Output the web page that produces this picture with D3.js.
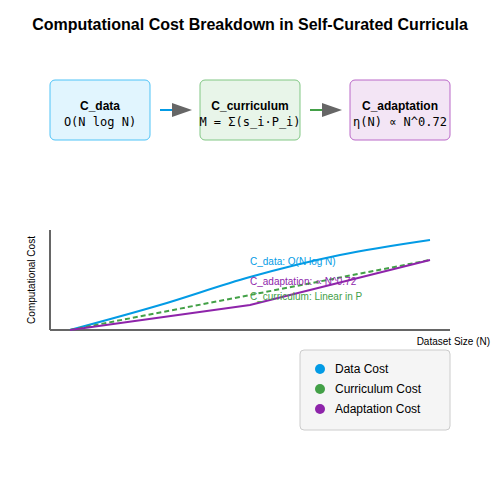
<!DOCTYPE html>
<html><head><meta charset="utf-8">
<script src="https://cdn.jsdelivr.net/npm/d3@7"></script>
<style>body{margin:0;background:#fff}</style></head>
<body><div id="chartHolder"></div>
<script>
// data
const stageNames = ["C_data", "C_curriculum", "C_adaptation"];
const stageFormulas = ["O(N log N)", "M = Σ(s_i·P_i)", "η(N) ∝ N^0.72"];
const stageFill = ["#e1f5fe", "#e8f5e9", "#f3e5f5"];
const stageStroke = ["#4fc3f7", "#81c784", "#ba68c8"];
const seriesNames = ["Data Cost", "Curriculum Cost", "Adaptation Cost"];
const seriesColors = ["#039be5", "#43a047", "#8e24aa"];
const dataCost = [[5, 0], [27.5, 25], [50, 53], [72.5, 75], [95, 90]];
const curriculumCost = [[5, 0], [95, 70]];
const adaptationCost = [[5, 0], [50, 25], [95, 70]];
const annotations = ["C_data: O(N log N)", "C_adaptation: ∝ N^0.72", "C_curriculum: Linear in P"];

const width = 500, height = 500;
const svg = d3.select("#chartHolder").append("svg").attr("width", width).attr("height", height);

svg.append("text").attr("x", 250).attr("y", 30).attr("text-anchor", "middle")
  .style("font-family", "Liberation Sans, Arial").style("font-size", "16px").style("font-weight", "bold")
  .text("Computational Cost Breakdown in Self-Curated Curricula");

// flow boxes
const bx = d3.scaleOrdinal().domain(stageNames).range([50, 200, 350]);
stageNames.forEach((n, i) => {
  const g = svg.append("g").attr("transform", `translate(${bx(n)},80)`);
  g.append("rect").attr("width", 100).attr("height", 60).attr("rx", 5)
    .attr("fill", stageFill[i]).attr("stroke", stageStroke[i]);
  g.append("text").attr("x", 50).attr("y", 30).attr("text-anchor", "middle")
    .style("font-family", "Liberation Sans, Arial").style("font-size", "12px").style("font-weight", "bold").text(n);
  g.append("text").attr("x", 50).attr("y", 46).attr("text-anchor", "middle")
    .style("font-family", "DejaVu Sans Mono, monospace").style("font-size", "12px").text(stageFormulas[i]);
  if (i < 2) {
    const ax = bx(n) + 110;
    svg.append("line").attr("x1", ax).attr("x2", ax + 14).attr("y1", 110).attr("y2", 110)
      .attr("stroke", seriesColors[i]).attr("stroke-width", 2);
    svg.append("path").attr("d", `M${ax + 12},103 L${ax + 32},110 L${ax + 12},117 Z`).attr("fill", "#666");
  }
});

// chart
const x = d3.scaleLinear().domain([0, 100]).range([50, 450]);
const y = d3.scaleLinear().domain([0, 100]).range([330, 230]);
svg.append("line").attr("x1", x(0)).attr("x2", x(0)).attr("y1", y(0)).attr("y2", y(100)).attr("stroke", "#666").attr("stroke-width", 2);
svg.append("line").attr("x1", x(0)).attr("x2", x(100)).attr("y1", y(0)).attr("y2", y(0)).attr("stroke", "#666").attr("stroke-width", 2);
svg.append("text").attr("transform", "rotate(-90)").attr("x", -280).attr("y", 35).attr("text-anchor", "middle")
  .style("font-family", "Liberation Sans, Arial").style("font-size", "10px").text("Computational Cost");
svg.append("text").attr("x", 490).attr("y", 345).attr("text-anchor", "end")
  .style("font-family", "Liberation Sans, Arial").style("font-size", "10px").text("Dataset Size (N)");

const line = d3.line().x(d => x(d[0])).y(d => y(d[1]));
svg.append("path").attr("d", line.curve(d3.curveMonotoneX)(dataCost)).attr("fill", "none").attr("stroke", seriesColors[0]).attr("stroke-width", 2);
svg.append("path").attr("d", d3.line().x(d => x(d[0])).y(d => y(d[1]))(curriculumCost)).attr("fill", "none").attr("stroke", seriesColors[1]).attr("stroke-width", 2).attr("stroke-dasharray", "5,3");
svg.append("path").attr("d", d3.line().x(d => x(d[0])).y(d => y(d[1]))(adaptationCost)).attr("fill", "none").attr("stroke", seriesColors[2]).attr("stroke-width", 2);

const annY = [265, 285, 300];
const annColor = [seriesColors[0], seriesColors[2], seriesColors[1]];
annotations.forEach((t, i) => svg.append("text").attr("x", 250).attr("y", annY[i]).attr("fill", annColor[i])
  .style("font-family", "Liberation Sans, Arial").style("font-size", "10px").text(t));

// legend
svg.append("rect").attr("x", 300).attr("y", 350).attr("width", 150).attr("height", 80).attr("rx", 4)
  .attr("fill", "#f5f5f5").attr("stroke", "#ccc");
seriesNames.forEach((n, i) => {
  svg.append("circle").attr("cx", 320).attr("cy", 369 + i * 20).attr("r", 5).attr("fill", seriesColors[i]);
  svg.append("text").attr("x", 335).attr("y", 373 + i * 20)
    .style("font-family", "Liberation Sans, Arial").style("font-size", "12px").text(n);
});
</script></body></html>
